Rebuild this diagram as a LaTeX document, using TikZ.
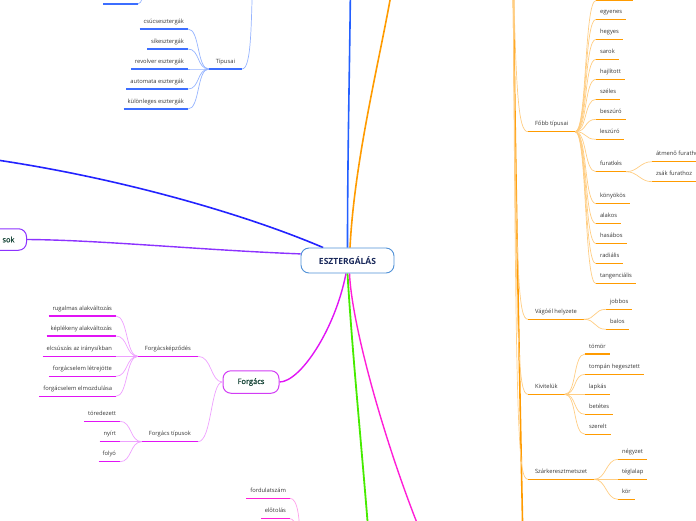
\documentclass[tikz,border=0pt]{standalone}
\usepackage{fontspec}
\setmainfont{Open Sans}
\newfontfamily\mmsemi[FakeBold=1.3]{Open Sans}
\usetikzlibrary{backgrounds}
\definecolor{rootborder}{RGB}{80,145,215}
\definecolor{rootText}{RGB}{25,40,90}
\definecolor{mainText}{RGB}{30,75,62}
\definecolor{leafText}{RGB}{55,55,55}
\definecolor{cBlueMain}{RGB}{35,95,255}
\definecolor{cDarkBlue}{RGB}{35,35,255}
\definecolor{cPurple}{RGB}{140,50,255}
\definecolor{cOrange}{RGB}{255,155,0}
\definecolor{cOrangeL}{RGB}{255,205,130}
\definecolor{cBlueUL}{RGB}{60,110,255}
\definecolor{cBlueL}{RGB}{150,180,255}
\definecolor{cMag}{RGB}{225,20,245}
\definecolor{cMagL}{RGB}{238,160,255}
\definecolor{cForgBorder}{RGB}{210,60,245}
\definecolor{cGreen}{RGB}{70,235,0}
\definecolor{cPink}{RGB}{255,30,215}
\definecolor{cPinkL}{RGB}{255,160,235}
\tikzset{
  mmleaf/.style={font=\fontsize{5.8}{7}\selectfont, text=leafText, inner xsep=4pt, inner ysep=4.3pt, text height=4pt, text depth=1.5pt, outer sep=0pt},
  mmmid/.style={mmleaf, inner xsep=7pt},
  mmroot/.style={draw=rootborder, fill=white, rounded corners=8pt, line width=0.9pt, minimum width=93pt, minimum height=25pt, inner sep=0pt, font=\fontsize{8.5}{10}\selectfont\bfseries, text=rootText},
  mmmain/.style={fill=white, rounded corners=8pt, line width=1pt, minimum height=22.5pt, inner ysep=0pt, font=\fontsize{7.5}{9}\mmsemi, text=mainText},
  ulblue/.style={draw=cBlueUL, line width=1.5pt},
  cnblue/.style={draw=cBlueL, line width=0.7pt},
  ulor/.style={draw=cOrange, line width=1.5pt},
  cnor/.style={draw=cOrangeL, line width=0.7pt},
  ulmg/.style={draw=cMag, line width=1.5pt},
  cnmg/.style={draw=cMagL, line width=0.7pt},
  ulpk/.style={draw=cPink, line width=1.5pt},
  cnpk/.style={draw=cPinkL, line width=0.7pt},
}
\newcommand\mmR[5]{\node[mmleaf,anchor=south west] (#1) at (#2,#3) {#4}; \draw[#5] (#1.south west) -- (#1.south east);}
\newcommand\mmL[5]{\node[mmleaf,anchor=south east] (#1) at (#2,#3) {#4}; \draw[#5] (#1.south west) -- (#1.south east);}
\newcommand\mmcR[3]{\draw[#3] (#1.south east) .. controls +(12,0) and +(-12,0) .. (#2.south west);}
\begin{document}
\begin{tikzpicture}[x=1pt,y=-1pt]
\useasboundingbox (0,0) rectangle (696,520);
\clip (0,0) rectangle (696,520);

% main nodes
\node[mmroot] (c) at (347.5,260.5) {ESZTERGÁLÁS};
\node[mmmain, draw=cForgBorder, minimum width=56pt] (forg) at (251,382) {\selectfont Forgács};
\node[mmmain, draw=cPurple, inner xsep=12pt, minimum height=21.5pt, anchor=east] (sok) at (27,239.5) {\selectfont sok};

% free ends
\coordinate (tb) at (350.5,-20);
\coordinate (to) at (395,-30);
\coordinate (tl) at (-40,155);
\coordinate (gb) at (369,540);
\coordinate (mb) at (426,545);
\coordinate (otop) at (513,-40);
\coordinate (obot) at (523,545);
\coordinate (tipup) at (253,-30);
\coordinate (pa) at (103,4);
\coordinate (pb) at (138,4);
\coordinate (pup) at (146,-25);
\coordinate (f0a) at (596,0.5);
\coordinate (f0b) at (633,0.5);
\coordinate (pkb) at (300,545);

\begin{pgfonlayer}{background}
\draw[cBlueMain, line width=1.6pt] (c.north) .. controls (347.5,150) and (350,50) .. (tb);
\draw[cOrange, line width=1.6pt] ([xshift=2.5pt]c.north) .. controls (355,150) and (385,40) .. (to);
\draw[cDarkBlue, line width=1.6pt] (c.152) .. controls (240,212) and (100,172) .. (tl);
\draw[cPurple, line width=1.4pt] (c.172) .. controls (200,250) and (100,240) .. (sok.east);
\draw[cMag, line width=1.4pt] ([xshift=-1.5pt]c.south) .. controls (335,330) and (300,382) .. (forg.east);
\draw[cGreen, line width=1.8pt] (c.south) .. controls (352,350) and (362,450) .. (gb);
\draw[cPink, line width=1.4pt] ([xshift=2pt]c.south) .. controls (352,330) and (390,460) .. (mb);
\end{pgfonlayer}

% Tipusai branch (blue)
\node[mmmid, anchor=south east] (tip) at (242,69) {Típusai};
\draw[ulblue] (tip.south west) -- (tip.south east);
\draw[cnblue] (tip.south east) .. controls (252,69) and (251,20) .. (tipup);
\mmL{t1}{188}{29}{csúcsesztergák}{ulblue}
\mmL{t2}{188}{49}{síkesztergák}{ulblue}
\mmL{t3}{188}{69}{revolver esztergák}{ulblue}
\mmL{t4}{188}{89}{automata esztergák}{ulblue}
\mmL{t5}{188}{109}{különleges esztergák}{ulblue}
\foreach \n in {t1,t2,t3,t4,t5}{\mmcR{\n}{tip}{cnblue}}
\draw[ulblue] (pa) -- (pb);
\draw[cnblue] (pb) .. controls (142,4) and (143,-5) .. (pup);

% Forgacs branch
\node[mmmid, anchor=south east] (fk) at (198,356.3) {Forgácsképződés};
\draw[ulmg] (fk.south west) -- (fk.south east);
\node[mmmid, anchor=south east] (ft) at (198,441.7) {Forgács típusok};
\draw[ulmg] (ft.south west) -- (ft.south east);
\draw[cnmg] (fk.south east) .. controls +(14,0) and +(-12,0) .. (forg.west);
\draw[cnmg] (ft.south east) .. controls +(14,0) and +(-12,0) .. (forg.west);
\mmL{k1}{116}{316}{rugalmas alakváltozás}{ulmg}
\mmL{k2}{116}{336}{képlékeny alakváltozás}{ulmg}
\mmL{k3}{116}{356.3}{elcsúszás az iránysíkban}{ulmg}
\mmL{k4}{116}{376.3}{forgácselem létrejötte}{ulmg}
\mmL{k5}{116}{396.3}{forgácselem elmozdulása}{ulmg}
\foreach \n in {k1,k2,k3,k4,k5}{\mmcR{\n}{fk}{cnmg}}
\mmL{s1}{120}{421.3}{töredezett}{ulmg}
\mmL{s2}{120}{441.7}{nyírt}{ulmg}
\mmL{s3}{120}{461.7}{folyó}{ulmg}
\foreach \n in {s1,s2,s3}{\mmcR{\n}{ft}{cnmg}}

% bottom pink
\mmL{b1}{290}{498.3}{fordulatszám}{ulpk}
\mmL{b2}{290}{518.7}{előtolás}{ulpk}
\draw[cnpk] (b1.south east) .. controls +(8,0) and +(0,-25) .. (pkb);
\draw[cnpk] (b2.south east) .. controls +(6,0) and +(0,-10) .. (pkb);

% Orange right column
\draw[cOrange, line width=1.6pt] (otop) .. controls (515,150) and (519,350) .. (obot);
\node[mmmid, anchor=south west] (fobb) at (528,131.7) {Főbb típusai};
\node[mmmid, anchor=south west] (vago) at (528,319.3) {Vágóél helyzete};
\node[mmmid, anchor=south west] (kiv) at (528,394.3) {Kivitelük};
\node[mmmid, anchor=south west] (szar) at (528,479.3) {Szárkeresztmetszet};
\foreach \n/\y in {fobb/131.7,vago/319.3,kiv/394.3,szar/479.3}{
  \draw[cnor] (otop) .. controls (516,\y-40) and (518,\y) .. (\n.south west);
  \draw[ulor] (\n.south west) -- (\n.south east);
}
\draw[ulor] (f0a) -- (f0b);
\draw[cnor] (fobb.south east) .. controls +(12,0) and +(-12,0) .. (f0a);
\mmR{e1}{596}{19.3}{egyenes}{ulor}
\mmR{e2}{596}{39.3}{hegyes}{ulor}
\mmR{e3}{596}{59.3}{sarok}{ulor}
\mmR{e4}{596}{79.3}{hajlított}{ulor}
\mmR{e5}{596}{99.3}{széles}{ulor}
\mmR{e6}{596}{119.3}{beszúró}{ulor}
\mmR{e7}{596}{139.3}{leszúró}{ulor}
\mmR{e8}{596}{171.7}{furatkés}{ulor}
\mmR{e9}{596}{203.7}{könyökös}{ulor}
\mmR{e10}{596}{223.7}{alakos}{ulor}
\mmR{e11}{596}{243.7}{hasábos}{ulor}
\mmR{e12}{596}{263.7}{radiális}{ulor}
\mmR{e13}{596}{283.7}{tangenciális}{ulor}
\foreach \n in {e1,e2,e3,e4,e5,e6,e7,e8,e9,e10,e11,e12,e13}{\draw[cnor] (fobb.south east) .. controls +(12,0) and +(-12,0) .. (\n.south west);}
\mmR{g1}{652}{161.7}{átmenő furathoz}{ulor}
\mmR{g2}{652}{181.7}{zsák furathoz}{ulor}
\mmcR{e8}{g1}{cnor}
\mmcR{e8}{g2}{cnor}
\mmR{v1}{606}{309.3}{jobbos}{ulor}
\mmR{v2}{606}{329.3}{balos}{ulor}
\mmcR{vago}{v1}{cnor}
\mmcR{vago}{v2}{cnor}
\mmR{q1}{585}{354}{tömör}{ulor}
\mmR{q2}{585}{374.3}{tompán hegesztett}{ulor}
\mmR{q3}{585}{394.3}{lapkás}{ulor}
\mmR{q4}{585}{414.3}{betétes}{ulor}
\mmR{q5}{585}{434.3}{szerelt}{ulor}
\foreach \n in {q1,q2,q3,q4,q5}{\mmcR{kiv}{\n}{cnor}}
\mmR{r1}{618}{459.3}{négyzet}{ulor}
\mmR{r2}{618}{479.3}{téglalap}{ulor}
\mmR{r3}{618}{499.3}{kör}{ulor}
\foreach \n in {r1,r2,r3}{\mmcR{szar}{\n}{cnor}}
\end{tikzpicture}
\end{document}
